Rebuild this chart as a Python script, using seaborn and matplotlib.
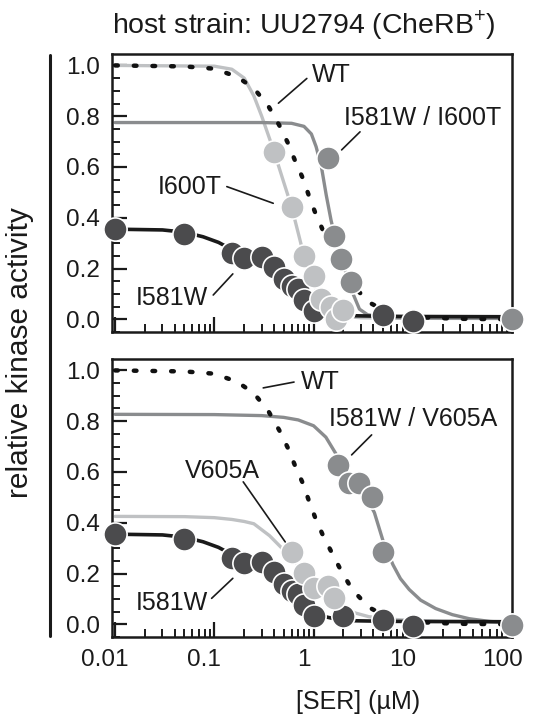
import numpy as np
import matplotlib
matplotlib.use('Agg')
import matplotlib.pyplot as plt
import seaborn as sns
from matplotlib.lines import Line2D
from matplotlib.ticker import FixedLocator, MultipleLocator, FormatStrFormatter, LogLocator
from matplotlib.transforms import ScaledTranslation

# ---- data (SER in uM, relative kinase activity) ----
# WT fit (dotted, same in both panels)
wt_fit_ser = [0.01, 0.05, 0.1, 0.17, 0.25, 0.35, 0.45, 0.55, 0.65, 0.78, 0.9, 1.05,
              1.25, 1.55, 1.9, 2.45, 3.6, 5, 8, 15, 30, 100]
wt_fit_act = [1.0, 0.996, 0.987, 0.955, 0.91, 0.84, 0.765, 0.695, 0.625, 0.555, 0.485, 0.415,
              0.348, 0.277, 0.21, 0.137, 0.067, 0.038, 0.016, 0.006, 0.002, 0.0]

# I581W (both panels)
i581w_ser = [0.01, 0.05, 0.15, 0.2, 0.3, 0.4, 0.5, 0.6, 0.7, 0.8, 1.0, 2.0, 5.0, 10.0]
i581w_act = [0.355, 0.336, 0.26, 0.242, 0.246, 0.207, 0.16, 0.131, 0.121, 0.076, 0.034, 0.033, 0.015, -0.008]
i581w_fit_ser = [0.01, 0.03, 0.05, 0.077, 0.11, 0.15, 0.2, 0.3, 0.4, 0.5, 0.6, 0.7, 0.8, 1.0,
                 1.3, 1.7, 2.5, 5, 10, 100]
i581w_fit_act = [0.355, 0.352, 0.343, 0.325, 0.303, 0.275, 0.25, 0.215, 0.18, 0.15, 0.122, 0.098, 0.078, 0.05,
                 0.03, 0.02, 0.014, 0.012, 0.011, 0.01]

# top panel: I600T and I581W / I600T
i600t_ser = [0.4, 0.6, 0.8, 1.0, 1.2, 1.5, 1.7, 2.0]
i600t_act = [0.66, 0.443, 0.25, 0.171, 0.08, 0.05, 0.0, 0.035]
i600t_fit_ser = [0.01, 0.1, 0.15, 0.2, 0.25, 0.3, 0.35, 0.4, 0.5, 0.6, 0.7, 0.8, 0.9, 1.0,
                 1.2, 1.5, 2.0, 3.0, 10, 100]
i600t_fit_act = [1.0, 0.997, 0.985, 0.95, 0.88, 0.8, 0.725, 0.66, 0.54, 0.443, 0.34, 0.25, 0.19, 0.14,
                 0.075, 0.03, 0.012, 0.006, 0.004, 0.003]

dbl_i600t_ser = [1.4, 1.6, 1.9, 2.4, 100]
dbl_i600t_act = [0.634, 0.33, 0.237, 0.146, 0.003]
dbl_i600t_fit_ser = [0.01, 0.3, 0.6, 0.8, 0.95, 1.06, 1.2, 1.34, 1.5, 1.65, 1.9, 2.2, 2.5, 2.9,
                     3.5, 5, 10, 100]
dbl_i600t_fit_act = [0.775, 0.775, 0.772, 0.76, 0.73, 0.68, 0.6, 0.49, 0.39, 0.32, 0.235, 0.165, 0.1, 0.04,
                     0.018, 0.008, 0.005, 0.004]

# bottom panel: V605A and I581W / V605A
v605a_ser = [0.6, 0.8, 1.0, 1.4, 1.6]
v605a_act = [0.283, 0.203, 0.143, 0.15, 0.104]
v605a_fit_ser = [0.01, 0.05, 0.1, 0.15, 0.2, 0.25, 0.36, 0.49, 0.6, 0.8, 1.0, 1.3, 1.6, 2.0,
                 2.6, 3.6, 5, 8, 20, 100]
v605a_fit_act = [0.425, 0.424, 0.42, 0.413, 0.405, 0.396, 0.349, 0.296, 0.265, 0.205, 0.158, 0.12, 0.095, 0.07,
                 0.045, 0.03, 0.022, 0.017, 0.012, 0.01]

dbl_v605a_ser = [1.75, 2.3, 2.9, 3.9, 5.0, 100]
dbl_v605a_act = [0.628, 0.555, 0.555, 0.502, 0.285, -0.003]
dbl_v605a_fit_ser = [0.01, 0.1, 0.3, 0.5, 0.7, 1.0, 1.33, 1.75, 2.3, 2.9, 3.5, 4.1, 5.0, 6.3,
                     7.5, 9.2, 12, 17, 25, 37, 60, 100]
dbl_v605a_fit_act = [0.827, 0.826, 0.822, 0.815, 0.805, 0.782, 0.737, 0.66, 0.58, 0.53, 0.49, 0.44, 0.33, 0.235,
                     0.18, 0.137, 0.095, 0.062, 0.038, 0.022, 0.011, 0.006]

tick_vals = [0.01, 0.1, 1, 10, 100]
tick_text = ['0.01', '0.1', '1', '10', '100']

DARK = '#4b4b4d'
LIGHT = '#bfc1c3'
MID = '#8a8c8e'
INK = '#1a1a1a'

sns.set_style('white')
plt.rcParams['font.family'] = ['Liberation Sans', 'DejaVu Sans']
plt.rcParams['mathtext.fontset'] = 'custom'
plt.rcParams['mathtext.rm'] = 'Liberation Sans'

fig = plt.figure(figsize=(5.37, 7.2), dpi=100)
ax_top = fig.add_axes([0.2086, 0.5389, 0.7449, 0.3861])
ax_bot = fig.add_axes([0.2086, 0.1153, 0.7449, 0.3861])

panels = [
    (ax_top, [(i600t_fit_ser, i600t_fit_act, LIGHT), (dbl_i600t_fit_ser, dbl_i600t_fit_act, MID)],
     [(i600t_ser, i600t_act, LIGHT), (dbl_i600t_ser, dbl_i600t_act, MID)]),
    (ax_bot, [(v605a_fit_ser, v605a_fit_act, LIGHT), (dbl_v605a_fit_ser, dbl_v605a_fit_act, MID)],
     [(v605a_ser, v605a_act, LIGHT), (dbl_v605a_ser, dbl_v605a_act, MID)]),
]

for ax, fits, pts in panels:
    # fitted curves
    for fx, fy, c in fits:
        sns.lineplot(x=fx, y=fy, ax=ax, color=c, linewidth=2.4, sort=False, estimator=None, zorder=2)
    sns.lineplot(x=i581w_fit_ser, y=i581w_fit_act, ax=ax, color=INK, linewidth=2.6,
                 sort=False, estimator=None, zorder=2)
    sns.lineplot(x=wt_fit_ser, y=wt_fit_act, ax=ax, color='#111111', linewidth=3.2,
                 linestyle=(0, (0.6, 3.6)), dash_capstyle='round', sort=False, estimator=None, zorder=3)
    # data points
    sns.scatterplot(x=i581w_ser, y=i581w_act, ax=ax, s=280, color=DARK, edgecolor='white',
                    linewidth=1.2, zorder=5, clip_on=False)
    for px, py, c in pts:
        sns.scatterplot(x=px, y=py, ax=ax, s=280, color=c, edgecolor='white',
                        linewidth=1.2, zorder=5, clip_on=False)

    ax.set_xscale('log')
    ax.set_xlim(0.0093, 100)
    ax.set_ylim(-0.05, 1.045)
    ax.xaxis.set_major_locator(FixedLocator(tick_vals))
    ax.xaxis.set_minor_locator(LogLocator(base=10, subs=np.arange(2, 10), numticks=20))
    ax.yaxis.set_major_locator(MultipleLocator(0.2))
    ax.yaxis.set_minor_locator(MultipleLocator(0.05))
    ax.yaxis.set_major_formatter(FormatStrFormatter('%.1f'))
    ax.tick_params(which='both', direction='in', bottom=True, left=True, top=False, right=False,
                   color=INK, labelcolor=INK)
    ax.tick_params(which='major', length=11, width=1.6, labelsize=17.5, pad=8.5)
    ax.tick_params(which='minor', length=5.5, width=1.4)
    for sp in ax.spines.values():
        sp.set_color(INK)
        sp.set_linewidth(1.8)
    ax.set_xlabel('')
    ax.set_ylabel('')

ax_top.set_xticklabels([])
ax_bot.set_xticklabels(tick_text)
shift = ScaledTranslation(-0.10, 0, fig.dpi_scale_trans)
for lab in ax_bot.get_xticklabels():
    lab.set_transform(lab.get_transform() + shift)

ax_bot.set_xlabel('[SER] (µM)', fontsize=18, color=INK)
ax_bot.xaxis.set_label_coords(0.615, -0.19)

# curve labels with leader lines (axes fraction)
labels_top = [('WT', 0.549, 0.924, (0.416, 0.487), (0.823, 0.912)),
              ('I581W / I600T', 0.776, 0.770, (0.574, 0.62), (0.655, 0.72)),
              ('I600T', 0.195, 0.52, (0.287, 0.403), (0.523, 0.463)),
              ('I581W', 0.149, 0.122, (0.253, 0.302), (0.133, 0.209))]
labels_bot = [('WT', 0.52, 0.917, (0.378, 0.455), (0.896, 0.917)),
              ('I581W / V605A', 0.753, 0.784, (0.599, 0.649), (0.655, 0.727)),
              ('V605A', 0.276, 0.597, (0.328, 0.433), (0.558, 0.342)),
              ('I581W', 0.149, 0.122, (0.249, 0.302), (0.139, 0.211))]
for ax, labs in [(ax_top, labels_top), (ax_bot, labels_bot)]:
    for txt, tx, ty, lx, ly in labs:
        ax.text(tx, ty, txt, transform=ax.transAxes, ha='center', va='center',
                fontsize=18, color=INK, zorder=6)
        ax.plot(lx, ly, transform=ax.transAxes, color=INK, lw=1.2, zorder=6)

fig.text(0.565, 0.965, 'host strain: UU2794 (CheRB$^{+}$)', ha='center', va='center',
         fontsize=20.5, color=INK)
fig.text(0.037, 0.511, 'relative kinase activity', rotation=90, ha='center', va='center',
         fontsize=21.5, color=INK)
fig.add_artist(Line2D([0.0931, 0.0931], [1 - 55 / 720, 1 - 636 / 720], color=INK, lw=2.2))

fig.savefig('out.png', dpi=100)
